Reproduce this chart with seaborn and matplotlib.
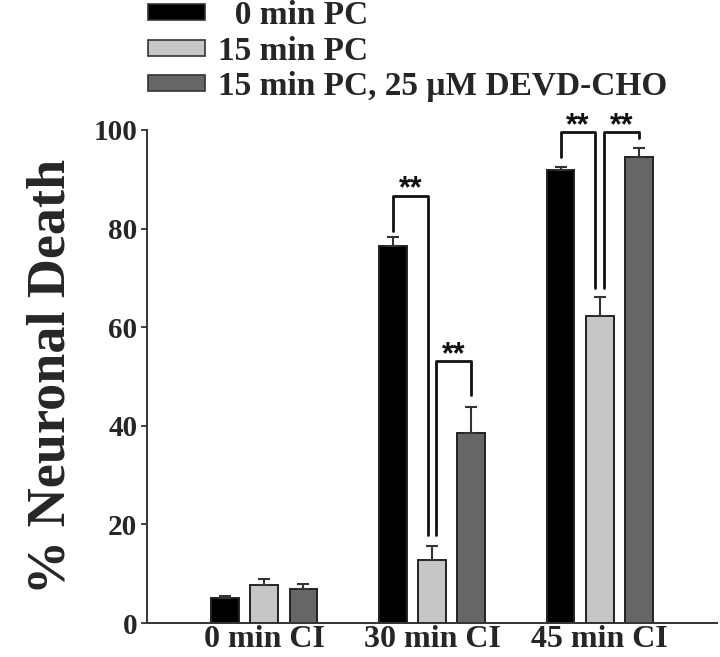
import matplotlib
matplotlib.use("Agg")
import matplotlib.pyplot as plt
import matplotlib.patches as mpatches
import seaborn as sns
import pandas as pd

# ---- data ----
groups = ["0 min CI", "30 min CI", "45 min CI"]
conditions = ["  0 min PC", "15 min PC", "15 min PC, 25 \u03bcM DEVD-CHO"]
pc0_mean = [5.0, 76.5, 91.9]
pc0_err = [0.5, 1.8, 0.5]
pc15_mean = [7.7, 12.8, 62.3]
pc15_err = [1.2, 2.9, 3.8]
devd_mean = [6.9, 38.6, 94.5]
devd_err = [1.0, 5.3, 1.8]
yticks = [0, 20, 40, 60, 80, 100]

# significance brackets: group, left hue, right hue, left-leg bottom, right-leg bottom, top
sig_group = [1, 1, 2, 2]
sig_left = [0, 1, 0, 1]
sig_right = [1, 2, 1, 2]
sig_left_bottom = [79.5, 17.8, 94.6, 67.9]
sig_right_bottom = [17.8, 46.2, 67.9, 98.4]
sig_top = [86.7, 53.1, 99.5, 99.5]
sig_text = ["**", "**", "**", "**"]

means = [pc0_mean, pc15_mean, devd_mean]
errs = [pc0_err, pc15_err, devd_err]
rows = []
for c, m in zip(conditions, means):
    for g, v in zip(groups, m):
        rows.append({"group": g, "condition": c, "value": v})
df = pd.DataFrame(rows)

colors = ["#000000", "#c6c6c6", "#666666"]

sns.set_theme(style="white")
plt.rcParams["font.family"] = ["Liberation Serif", "DejaVu Serif"]
plt.rcParams["font.weight"] = "bold"

fig = plt.figure(figsize=(7.2, 6.57), dpi=100)
ax = fig.add_axes([147 / 720, 34 / 657, (717 - 147) / 720, (623 - 130) / 657])

sns.barplot(data=df, x="group", y="value", hue="condition", order=groups,
            hue_order=conditions, palette=colors, width=0.7, gap=0.29,
            edgecolor="#222222", linewidth=1.4, errorbar=None, legend=False, ax=ax)

bar_containers = list(ax.containers)

# error bars (upper only)
centers = []
for i, cont in enumerate(bar_containers):
    cx = []
    for j, p in enumerate(cont.patches):
        x = p.get_x() + p.get_width() / 2
        h = p.get_height()
        cx.append(x)
        ax.errorbar([x], [h], yerr=[[0], [errs[i][j]]], fmt="none",
                    ecolor="#333333", elinewidth=1.5, capsize=4.5, capthick=1.5,
                    zorder=5)
    centers.append(cx)

# significance brackets
for k in range(len(sig_group)):
    g = sig_group[k]
    xl = centers[sig_left[k]][g]
    xr = centers[sig_right[k]][g]
    if sig_left[k] == 1:
        xl += 0.026
    if sig_right[k] == 1:
        xr -= 0.026
    yt = sig_top[k]
    ax.plot([xl, xl, xr, xr], [sig_left_bottom[k], yt, yt, sig_right_bottom[k]],
            color="#111111", lw=2.0, clip_on=False, zorder=6,
            solid_joinstyle="round")
    ax.text((xl + xr) / 2, yt + 4.3, sig_text[k], ha="center", va="top",
            fontsize=22, fontfamily=["Liberation Sans", "DejaVu Sans"],
            fontweight="bold", color="#111111", clip_on=False)

ax.set_ylim(0, 100)
ax.set_xlim(-0.70, 2.70)
ax.set_yticks(yticks)
ax.set_yticklabels([str(t) for t in yticks], fontsize=21, fontweight="bold")
ax.set_xticks(range(len(groups)))
ax.set_xticklabels(groups, fontsize=23, fontweight="bold")
ax.tick_params(axis="y", which="both", left=True, length=4, width=1.3,
               color="#333333", pad=3)
ax.tick_params(axis="x", which="both", bottom=False, length=0, pad=1.5)
ax.set_xlabel("")
ax.set_ylabel("% Neuronal Death", fontsize=39, fontweight="bold", labelpad=12)

for s in ["top", "right"]:
    ax.spines[s].set_visible(False)
for s in ["left", "bottom"]:
    ax.spines[s].set_color("#333333")
    ax.spines[s].set_linewidth(1.4)

handles = [mpatches.Patch(facecolor=c, edgecolor="#333333", linewidth=1.2)
           for c in colors]
fig.legend(handles, conditions, loc="upper left",
           bbox_to_anchor=(148 / 720, 1.0), frameon=False,
           handlelength=1.71, handleheight=0.36,
           handletextpad=0.39, labelspacing=0.14, borderpad=0,
           borderaxespad=0, prop={"weight": "bold", "size": 24})

fig.savefig("out.png", dpi=100)
